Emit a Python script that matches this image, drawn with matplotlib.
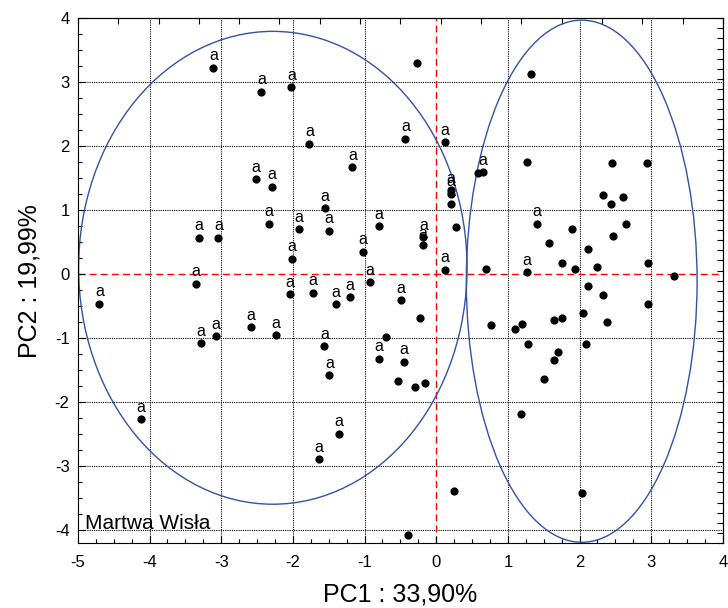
import numpy as np
import matplotlib
matplotlib.use("Agg")
import matplotlib.pyplot as plt
from matplotlib.patches import Ellipse

plt.rcParams['font.family'] = ['Liberation Sans', 'DejaVu Sans']
plt.rcParams['axes.unicode_minus'] = False

# PCA scores; lab = 1 means the point carries an "a"
pc1 = [-3.11, -2.44, -2.02, -2.52, -2.29, -2.34, -3.31, -3.04, -2.01, -3.35,
       -0.27, -1.77, -0.43, 0.12, -1.17, -1.55, 0.58, 0.65, 0.20, 0.20,
       0.20, -1.92, -1.50, -0.80, -0.18, -0.19, 0.28, -1.02, 0.12, 1.32,
       1.26, 2.45, 2.94, 2.33, 2.44, 2.60, 1.41, 2.65, 1.89, 2.47,
       1.58, 2.12, 0.70, 1.26, 1.75, 1.93, 2.25, 2.95, 3.32, -4.70,
       -3.28, -3.07, -2.59, -2.24, -2.04, -4.12, -1.72, -1.40, -1.20, -0.92,
       -0.49, -0.22, -1.56, -1.49, -0.70, -0.80, -0.45, -0.54, -0.30, -0.15,
       -1.36, -1.64, 0.25, -0.40, 2.12, 2.32, 2.95, 2.05, 2.38, 0.77,
       1.10, 1.20, 1.65, 1.75, 1.28, 2.09, 1.70, 1.65, 1.50, 1.18,
       2.04]
pc2 = [3.23, 2.85, 2.92, 1.48, 1.37, 0.79, 0.57, 0.57, 0.24, -0.15,
       3.30, 2.04, 2.12, 2.06, 1.67, 1.03, 1.58, 1.59, 1.31, 1.26,
       1.10, 0.70, 0.68, 0.75, 0.58, 0.45, 0.74, 0.35, 0.07, 3.13,
       1.76, 1.74, 1.73, 1.24, 1.09, 1.21, 0.79, 0.79, 0.71, 0.60,
       0.48, 0.40, 0.08, 0.03, 0.18, 0.08, 0.12, 0.18, -0.03, -0.46,
       -1.08, -0.97, -0.83, -0.95, -0.31, -2.27, -0.29, -0.47, -0.36, -0.12,
       -0.41, -0.68, -1.13, -1.58, -0.98, -1.32, -1.37, -1.67, -1.77, -1.70,
       -2.49, -2.89, -3.39, -4.08, -0.18, -0.33, -0.46, -0.61, -0.75, -0.80,
       -0.85, -0.78, -0.72, -0.69, -1.09, -1.09, -1.22, -1.34, -1.64, -2.19,
       -3.42]
lab = [1, 1, 1, 1, 1, 1, 1, 1, 1, 1,
       0, 1, 1, 1, 1, 1, 0, 1, 1, 1,
       1, 1, 1, 1, 1, 1, 0, 1, 1, 0,
       0, 0, 0, 0, 0, 0, 1, 0, 0, 0,
       0, 0, 0, 1, 0, 0, 0, 0, 0, 1,
       1, 1, 1, 1, 1, 1, 1, 1, 1, 1,
       1, 0, 1, 1, 0, 1, 1, 0, 0, 0,
       1, 1, 0, 0, 0, 0, 0, 0, 0, 0,
       0, 0, 0, 0, 0, 0, 0, 0, 0, 0,
       0]

# confidence ellipses: centre x, centre y, width, height
ell_cx = [-2.28, 2.03]
ell_cy = [0.10, -0.11]
ell_w = [5.42, 3.22]
ell_h = [7.39, 8.16]

xlab = "PC1 : 33,90%"
ylab = "PC2 : 19,99%"
site = "Martwa Wisła"

fig = plt.figure(figsize=(7.28, 6.08), dpi=100)
ax = fig.add_axes([0.107, 0.107, 0.886, 0.863])

ax.set_xlim(-5, 4)
ax.set_ylim(-4.2, 4)

ax.set_xticks(np.arange(-5, 5, 1))
ax.set_yticks(np.arange(-4, 5, 1))
ax.set_xticks(np.arange(-5, 4.01, 0.25), minor=True)
ax.set_yticks(np.arange(-4.0, 4.01, 0.25), minor=True)

for v in range(-4, 4):
    if v != 0:
        ax.axvline(v, color='k', ls=(0, (1, 1)), lw=0.8, zorder=1)
        ax.axhline(v, color='k', ls=(0, (1, 1)), lw=0.8, zorder=1)
ax.axvline(0, color='red', ls=(0, (5, 3)), lw=1.0, zorder=1)
ax.axhline(0, color='red', ls=(0, (5, 3)), lw=1.0, zorder=1)

for cx, cy, w, h in zip(ell_cx, ell_cy, ell_w, ell_h):
    ax.add_patch(Ellipse((cx, cy), w, h, fill=False, ec='#3352a6', lw=1.0, zorder=2))

ax.scatter(pc1, pc2, s=24, c='k', zorder=3)
for x, y, l in zip(pc1, pc2, lab):
    if l:
        ax.annotate('a', (x, y), xytext=(0, 5.3), textcoords='offset points',
                    ha='center', va='baseline', fontsize=11.5, zorder=4)

ax.text(-4.9, -4.05, site, fontsize=15, ha='left', va='bottom')

ax.tick_params(which='both', direction='in', labelsize=12)
ax.tick_params(which='major', length=5, width=0.8)
ax.tick_params(which='minor', length=3, width=0.8)
ax.tick_params(axis='x', pad=9)
ax.tick_params(axis='y', pad=6)

# Statistica style extra ticks on top and right
top = ax.secondary_xaxis('top')
top.set_xticks(np.linspace(-5, 4, 17), labels=[])
top.tick_params(direction='in', length=4, width=0.8)
right = ax.secondary_yaxis('right')
right.set_yticks(np.linspace(-4.2, 4, 53), labels=[])
right.tick_params(direction='in', length=4, width=0.8)

ax.set_xlabel(xlab, fontsize=18)
ax.set_ylabel(ylab, fontsize=18)
ax.xaxis.set_label_coords(0.5, -0.075)
ax.yaxis.set_label_coords(-0.056, 0.5)

fig.savefig('out.png', dpi=100)
